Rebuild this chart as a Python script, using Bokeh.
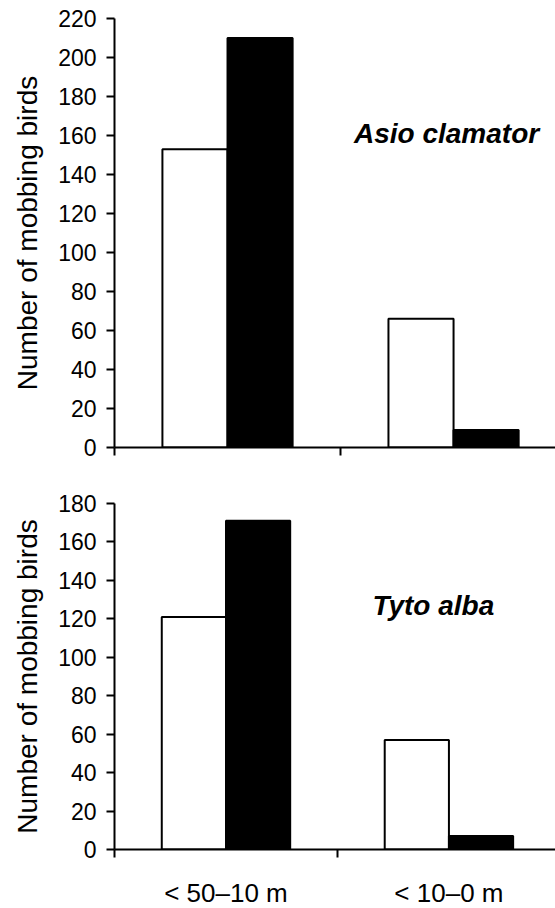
from bokeh.plotting import figure
from bokeh.layouts import column
from bokeh.models import FixedTicker, Label, Range1d, ColumnDataSource
from bokeh.transform import dodge
from bokeh.embed import file_html
from bokeh.resources import INLINE

categories = ["< 50–10 m", "< 10–0 m"]
cat_centers = [0.5, 1.5]
cat_bounds = [0, 1, 2]
asio_open = [153, 66]
asio_filled = [210, 9]
tyto_open = [121, 57]
tyto_filled = [171, 7]
asio_yticks = list(range(0, 221, 20))
tyto_yticks = list(range(0, 181, 20))

FONT = "Liberation Sans"


def make_panel(open_vals, filled_vals, ymax, yticks, xend, species, lx, ly,
               show_labels, border_top, frame_h, border_bottom):
    p = figure(frame_width=441, frame_height=frame_h,
               x_range=Range1d(0, xend), y_range=Range1d(0, ymax),
               output_backend="svg", toolbar_location=None,
               min_border_left=114, min_border_right=0,
               min_border_top=border_top, min_border_bottom=border_bottom)
    src = ColumnDataSource(dict(x=cat_centers, o=open_vals, f=filled_vals))
    p.vbar(x=dodge("x", -0.144, range=p.x_range), top="o", width=0.288, source=src,
           fill_color="white", line_color="black", line_width=2)
    p.vbar(x=dodge("x", 0.144, range=p.x_range), top="f", width=0.288, source=src,
           fill_color="black", line_color="black", line_width=2)

    p.xgrid.visible = False
    p.ygrid.visible = False
    p.outline_line_color = None
    p.background_fill_color = "white"
    p.border_fill_color = "white"

    xa = p.xaxis[0]
    xa.ticker = FixedTicker(ticks=cat_centers, minor_ticks=cat_bounds)
    xa.major_tick_out = 0
    xa.major_tick_in = 0
    xa.minor_tick_out = 8
    xa.minor_tick_in = 0
    xa.minor_tick_line_width = 2
    xa.axis_line_width = 2
    xa.axis_line_color = "black"
    if show_labels:
        xa.major_label_overrides = {c: t for c, t in zip(cat_centers, categories)}
        xa.major_label_text_font_size = "26px"
        xa.major_label_text_font = FONT
        xa.major_label_text_color = "black"
        xa.major_label_standoff = 20
    else:
        xa.major_label_overrides = {c: "" for c in cat_centers}
        xa.major_label_text_font_size = "0px"
        xa.major_label_standoff = 0

    ya = p.yaxis[0]
    ya.ticker = FixedTicker(ticks=yticks)
    ya.major_tick_out = 8
    ya.major_tick_in = 0
    ya.minor_tick_out = 0
    ya.minor_tick_in = 0
    ya.major_tick_line_width = 2
    ya.axis_line_width = 2
    ya.axis_line_color = "black"
    ya.major_label_text_font_size = "23px"
    ya.major_label_text_font = FONT
    ya.major_label_text_color = "black"
    ya.major_label_standoff = 10
    ya.axis_label = "Number of mobbing birds"
    ya.axis_label_text_font = FONT
    ya.axis_label_text_font_size = "28px"
    ya.axis_label_text_font_style = "normal"
    ya.axis_label_text_color = "black"
    ya.axis_label_standoff = 12

    p.add_layout(Label(x=lx, y=ly, text=species, text_font=FONT,
                       text_font_size="28px", text_font_style="bold italic",
                       text_align="center", text_baseline="middle",
                       text_color="black"))
    return p


top = make_panel(asio_open, asio_filled, 220, asio_yticks, 1.951, "Asio clamator",
                 1.469, 161, False, 18, 429, 31)
bottom = make_panel(tyto_open, tyto_filled, 180, tyto_yticks, 1.978, "Tyto alba",
                    1.43, 127, True, 25, 346, 58)

layout = column(top, bottom, spacing=0)
open("out.html", "w").write(file_html(layout, INLINE))
